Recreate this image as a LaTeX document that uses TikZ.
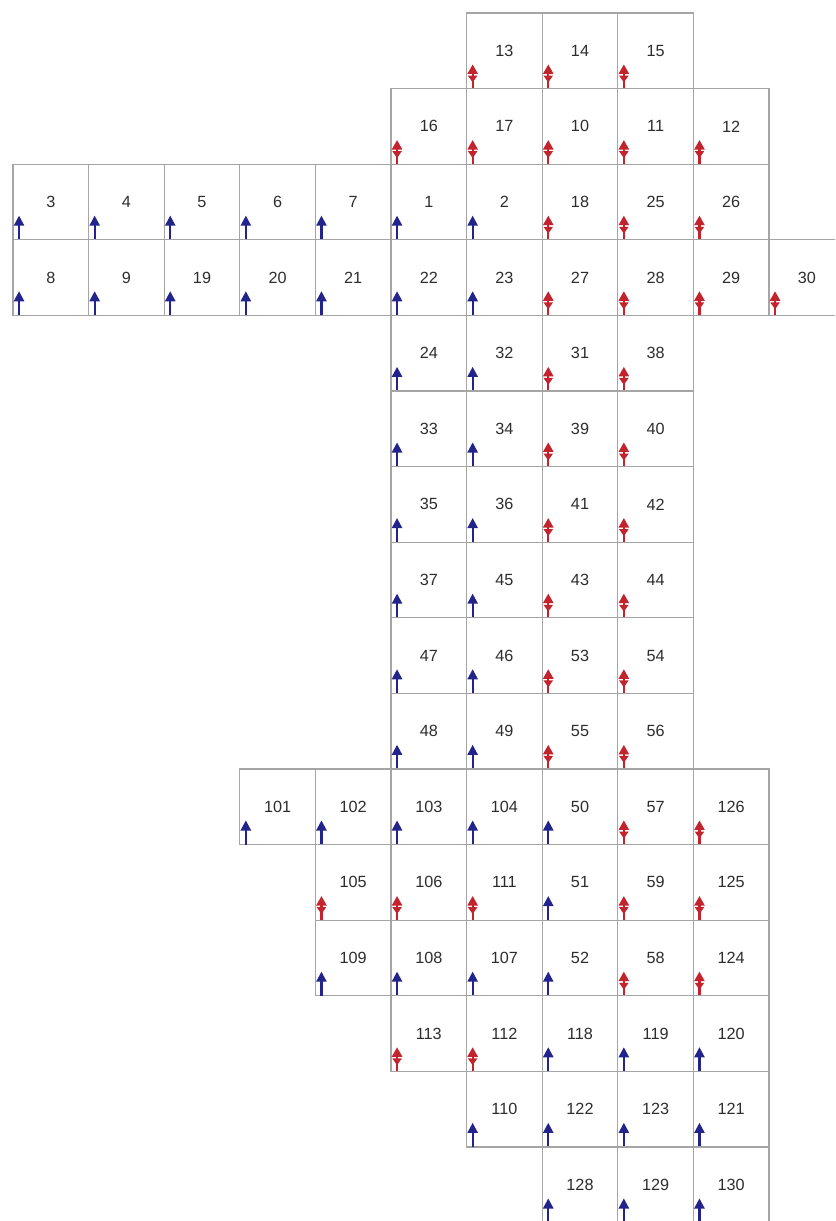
\documentclass[tikz,border=0pt]{standalone}
\usepackage{fontspec}
\setmainfont{Liberation Sans}
\usetikzlibrary{arrows.meta}

\definecolor{gridgray}{RGB}{165,165,165}
\definecolor{labelgray}{RGB}{45,45,45}
\definecolor{spinblue}{RGB}{35,35,140}
\definecolor{spinred}{RGB}{195,35,45}

\begin{document}
\begin{tikzpicture}[
cell/.style={draw=gridgray,line width=0.4pt,minimum size=1cm,inner sep=0pt,outer sep=0pt,text=labelgray,font=\fontsize{6.1}{7}\selectfont},
stem up/.style={spinblue,line width=0.8pt},
stem pair/.style={spinred,line width=0.8pt},
tip up/.style={stem up,-{Triangle[length=3.8pt,width=3.8pt]}},
tip pair/.style={stem pair,{Triangle[length=2.6pt,width=3.4pt]}-{Triangle[length=3.6pt,width=3.8pt]},shorten <=2.3pt}
]
\clip (0,0) rectangle (11.045,-16.151);
% cells: column/row/label/spin
\foreach \c/\r/\n/\s in {
6/0/13/pair,7/0/14/pair,8/0/15/pair,
5/1/16/pair,6/1/17/pair,7/1/10/pair,8/1/11/pair,9/1/12/pair,
0/2/3/up,1/2/4/up,2/2/5/up,3/2/6/up,4/2/7/up,5/2/1/up,6/2/2/up,7/2/18/pair,8/2/25/pair,9/2/26/pair,
0/3/8/up,1/3/9/up,2/3/19/up,3/3/20/up,4/3/21/up,5/3/22/up,6/3/23/up,7/3/27/pair,8/3/28/pair,9/3/29/pair,10/3/30/pair,
5/4/24/up,6/4/32/up,7/4/31/pair,8/4/38/pair,
5/5/33/up,6/5/34/up,7/5/39/pair,8/5/40/pair,
5/6/35/up,6/6/36/up,7/6/41/pair,8/6/42/pair,
5/7/37/up,6/7/45/up,7/7/43/pair,8/7/44/pair,
5/8/47/up,6/8/46/up,7/8/53/pair,8/8/54/pair,
5/9/48/up,6/9/49/up,7/9/55/pair,8/9/56/pair,
3/10/101/up,4/10/102/up,5/10/103/up,6/10/104/up,7/10/50/up,8/10/57/pair,9/10/126/pair,
4/11/105/pair,5/11/106/pair,6/11/111/pair,7/11/51/up,8/11/59/pair,9/11/125/pair,
4/12/109/up,5/12/108/up,6/12/107/up,7/12/52/up,8/12/58/pair,9/12/124/pair,
5/13/113/pair,6/13/112/pair,7/13/118/up,8/13/119/up,9/13/120/up,
6/14/110/up,7/14/122/up,8/14/123/up,9/14/121/up,
7/15/128/up,8/15/129/up,9/15/130/up}{
  \node[cell] (cell\n) at (0.672+\c,-0.672-\r) {\n};
  \draw[stem \s] ([xshift=0.08cm]cell\n.south west) -- ++(0,0.16);
  \draw[tip \s] ([xshift=0.08cm]cell\n.south west) -- ++(0,0.32);
}
\end{tikzpicture}
\end{document}
